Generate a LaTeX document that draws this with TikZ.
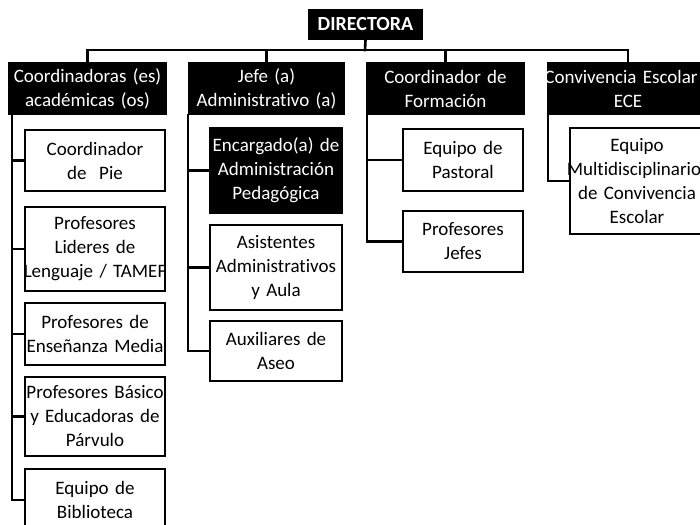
\documentclass[tikz,border=0pt]{standalone}
\usepackage{fontspec}
\setmainfont[Ligatures=NoCommon]{Carlito}
\newcommand\oneline[1]{\makebox[\linewidth]{#1}}
\begin{document}
\begin{tikzpicture}[x=1pt,y=-1pt,
  every node/.style={font=\fontsize{19}{24}\selectfont, align=center, inner sep=0pt},
  topbox/.style={fill=black, text=white, text width=159pt, minimum height=53pt},
  darkbox/.style={fill=black, text=white, draw=black, line width=2.6pt},
  whitebox/.style={draw=black, fill=white, line width=2.6pt},
  conn/.style={line width=2.6pt, line cap=rect}]
\useasboundingbox (0,0) rectangle (700,524);
\clip (0,0) rectangle (700,524);

\node[fill=black, text=white, minimum width=115pt, minimum height=31pt, font=\fontsize{20}{22}\selectfont\bfseries] (dir) at (365.5,24.5) {DIRECTORA};

\node[topbox] (b1) at (87.5,88.5) {\oneline{Coordinadoras (es)}\\acad\'emicas (os)};
\node[topbox, text width=157pt] (b2) at (266.5,88.5) {Jefe (a)\\\oneline{Administrativo (a)}};
\node[topbox] (b3) at (445.5,88.5) {Coordinador de\\Formaci\'on};
\node[topbox, text width=162pt] (b4) at (628,88.5) {\oneline{\hspace*{-14pt}Convivencia Escolar}\\ECE};

\coordinate (h) at (365,50);
\draw[conn] (dir.south) -- (h);
\draw[conn] (h) -| (b1.north);
\draw[conn] (h) -| (b2.north);
\draw[conn] (h) -| (b3.north);
\draw[conn] (h) -| (b4.north);

% column 1
\node[whitebox, text width=140pt, minimum height=61pt] (c11) at (95,160.5) {Coordinador\\de\ \ Pie};
\node[whitebox, text width=140pt, minimum height=84pt] (c12) at (95,249) {Profesores\\Lideres de\\\oneline{Lenguaje / TAMEF}};
\node[whitebox, text width=140pt, minimum height=62pt] (c13) at (95,334) {Profesores de\\\oneline{Ense\~nanza Media}};
\node[whitebox, text width=140pt, minimum height=79pt] (c14) at (95,416.5) {\oneline{Profesores B\'asico}\\y Educadoras de\\P\'arvulo};
\node[whitebox, text width=140pt, minimum height=62pt] (c15) at (95,500) {Equipo de\\Biblioteca};
\coordinate (s1) at (12,115);
\draw[conn] (s1) |- (c15.west);
\foreach \n in {c11,c12,c13,c14} \draw[conn] (s1 |- \n.west) -- (\n.west);

% column 2
\node[darkbox, text width=132pt, minimum height=85pt] (c21) at (276,170.5) {\oneline{Encargado(a) de}\\Administraci\'on\\Pedag\'ogica};
\node[whitebox, text width=132pt, minimum height=85pt] (c22) at (276,267.5) {Asistentes\\\oneline{Administrativos}\\y Aula};
\node[whitebox, text width=132pt, minimum height=60pt] (c23) at (276,351) {Auxiliares de\\Aseo};
\coordinate (s2) at (188,115);
\draw[conn] (s2) |- (c23.west);
\foreach \n in {c21,c22} \draw[conn] (s2 |- \n.west) -- (\n.west);

% column 3
\node[whitebox, text width=120pt, minimum height=62pt] (c31) at (463,160) {Equipo de\\Pastoral};
\node[whitebox, text width=120pt, minimum height=61pt] (c32) at (463,241.5) {Profesores\\Jefes};
\coordinate (s3) at (367,115);
\draw[conn] (s3) |- (c32.west);
\draw[conn] (s3 |- c31.west) -- (c31.west);

% column 4
\node[whitebox, text width=134pt, minimum height=106pt] (c41) at (637,181) {Equipo\\\oneline{\hspace*{-6pt}Multidisciplinario}\\de Convivencia\\Escolar};
\coordinate (s4) at (548,115);
\draw[conn] (s4) |- (c41.west);
\end{tikzpicture}
\end{document}
